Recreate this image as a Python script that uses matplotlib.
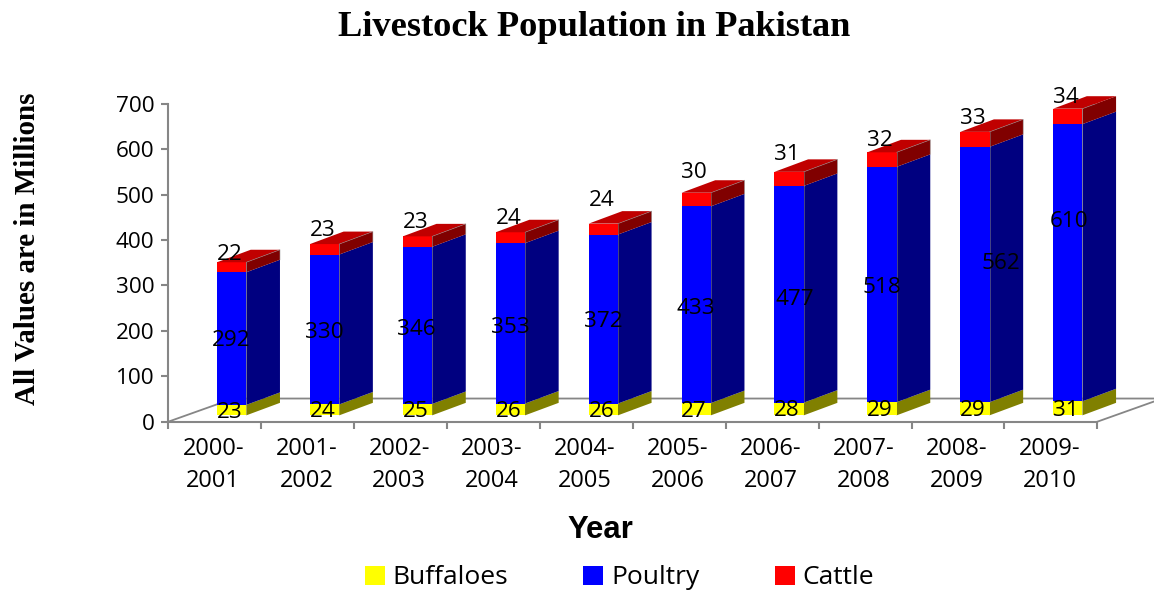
import matplotlib
matplotlib.use("Agg")
import matplotlib.pyplot as plt
from matplotlib.patches import Polygon, Patch

years = ["2000-\n2001", "2001-\n2002", "2002-\n2003", "2003-\n2004", "2004-\n2005",
         "2005-\n2006", "2006-\n2007", "2007-\n2008", "2008-\n2009", "2009-\n2010"]
buffaloes = [23, 24, 25, 26, 26, 27, 28, 29, 29, 31]
poultry = [292, 330, 346, 353, 372, 433, 477, 518, 562, 610]
cattle = [22, 23, 23, 24, 24, 30, 31, 32, 33, 34]

# hand-placed data label offsets in the reference, in pixels from the anchor
poultry_dx = [-1, 0, -1, 0, 0, 0, 6, 0, 26, 1]
poultry_dy = [-2, -3, -4, -4, -2, -4, -5, -3, 11, 41]
cattle_dy = [8, 14, 14, 14, 23, 20, 17, 12, 13, 11]

W, H = 1154, 594
fig = plt.figure(figsize=(W / 100, H / 100), dpi=100, facecolor="white")
L, R, T, B = 168.3, 1097.3, 103.7, 421.7
ax = fig.add_axes([L / W, 1 - B / H, (R - L) / W, (B - T) / H])
ax.set_xlim(0, 10)
ax.set_ylim(0, 700)
ax.patch.set_visible(False)

GRAY = "#868686"
FONT = "Open Sans"
SZ = 16.2
BAR_L, BAR_W = 0.525, 0.315        # bar front, in category units
DX, DY = 0.362, 27.5               # oblique depth of bar
BASE = 14                          # lift of the bar front above the axis
FX, FY = 0.70, 51                  # oblique depth of the floor

for s in ("top", "right"):
    ax.spines[s].set_visible(False)
for s in ("left", "bottom"):
    ax.spines[s].set_color(GRAY)
    ax.spines[s].set_linewidth(1.5)

ax.set_yticks(range(0, 701, 100))
ax.set_xticks(range(0, 11))
ax.set_xticklabels([])
ax.set_xticks([i + 0.485 for i in range(10)], minor=True)
ax.set_xticklabels(years, minor=True, family=FONT, fontsize=17, linespacing=1.42, color="black")
ax.tick_params(axis="y", length=5, width=1.5, color=GRAY, pad=5, labelsize=SZ, labelcolor="black")
ax.tick_params(axis="x", which="major", length=5, width=1.5, color=GRAY)
ax.tick_params(axis="x", which="minor", length=0, pad=11)
for t in ax.get_yticklabels():
    t.set_family(FONT)

# floor
ax.plot([0, FX, 10 + FX], [0, FY, FY], color=GRAY, lw=1.3, clip_on=False, zorder=1)
ax.plot([10, 10 + FX], [0, FY], color=GRAY, lw=1.3, clip_on=False, zorder=1)

series = [
    (buffaloes, "#ffff00", "#808000"),
    (poultry, "#0000ff", "#000080"),
    (cattle, "#ff0000", "#800000"),
]
EDGE = "#8a8a8a"
for i in range(10):
    x0, x1 = i + BAR_L, i + BAR_L + BAR_W
    bottom = BASE
    for vals, front, side in series:
        top = bottom + vals[i]
        ax.add_patch(Polygon([(x1, bottom), (x1 + DX, bottom + DY), (x1 + DX, top + DY), (x1, top)],
                             fc=side, ec="none", clip_on=False, zorder=3))
        ax.add_patch(Polygon([(x0, bottom), (x1, bottom), (x1, top), (x0, top)],
                             fc=front, ec="none", clip_on=False, zorder=4))
        if front != "#ffff00":
            ax.plot([x1, x1], [bottom, top], color=EDGE, lw=0.5, alpha=0.7, zorder=5)
        bottom = top
    ax.add_patch(Polygon([(x0, bottom), (x1, bottom), (x1 + DX, bottom + DY), (x0 + DX, bottom + DY)],
                         fc="#c00000", ec="none", clip_on=False, zorder=4))
    ax.plot([x1, x1 + DX, x1 + DX], [bottom, bottom + DY, bottom + DY - cattle[i]],
            color=EDGE, lw=0.5, alpha=0.7, zorder=5)

    xc = (x0 + x1) / 2
    kw = dict(textcoords="offset pixels", ha="center", va="center", family=FONT,
              fontsize=SZ, color="black", zorder=8, annotation_clip=False)
    ax.annotate(str(buffaloes[i]), (xc, BASE + buffaloes[i] / 2), xytext=(-2, -2), **kw)
    ax.annotate(str(poultry[i]), (xc, BASE + buffaloes[i] + poultry[i] / 2),
                xytext=(poultry_dx[i], poultry_dy[i]), **kw)
    ax.annotate(str(cattle[i]), (xc, bottom), xytext=(-2, cattle_dy[i]), **kw)

fig.text(594.5 / W, 1 - 27 / H, "Livestock Population in Pakistan", family="Liberation Serif",
         weight="bold", fontsize=26.2, ha="center", va="center", color="black")
fig.text(28 / W, 1 - 249 / H, "All Values are in Millions", family="Liberation Serif", weight="bold",
         fontsize=20.9, rotation=90, ha="center", va="center", color="black")
fig.text(600 / W, 1 - 530 / H, "Year", family="Liberation Sans", weight="bold", fontsize=22.4,
         ha="center", va="center", color="black")

handles = [Patch(fc="#ffff00", label="Buffaloes"), Patch(fc="#0000ff", label="Poultry"),
           Patch(fc="#ff0000", label="Cattle")]
leg = fig.legend(handles=handles, ncol=3, loc="center", bbox_to_anchor=(619.5 / W, 1 - 578 / H),
                 frameon=False, prop={"family": FONT, "size": 19}, handlelength=0.76, handleheight=0.72,
                 handletextpad=0.3, columnspacing=2.85, borderpad=0, labelcolor="black")

fig.savefig("out.png", dpi=100)
